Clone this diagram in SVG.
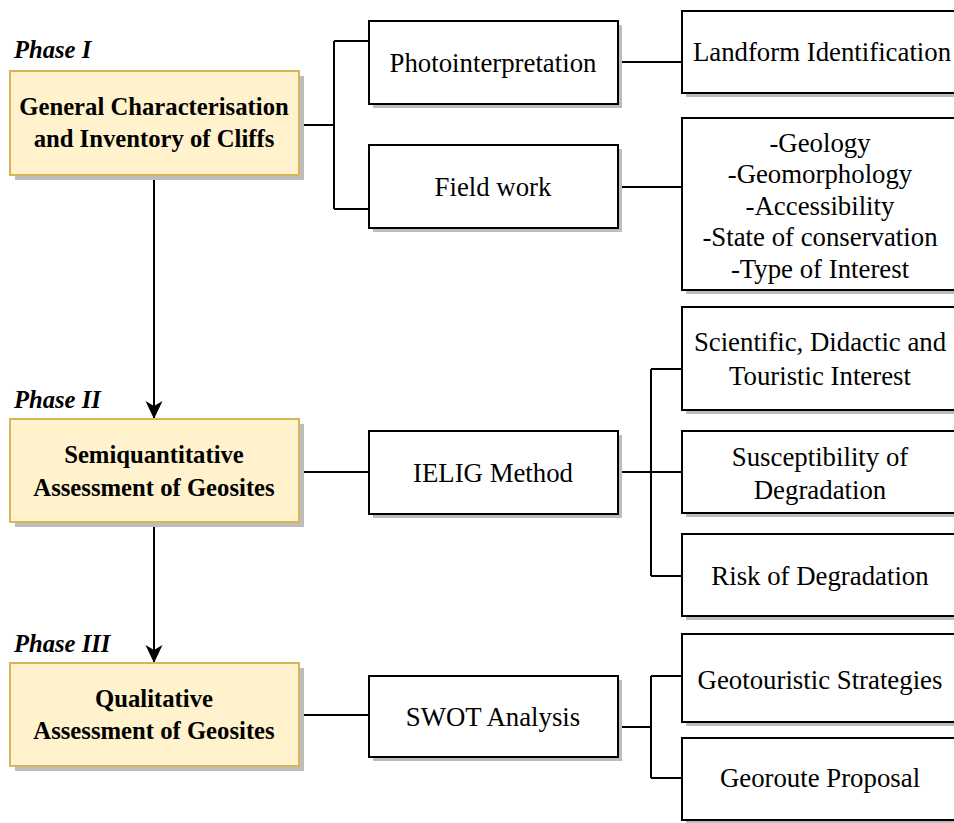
<svg xmlns="http://www.w3.org/2000/svg" width="954" height="823" viewBox="0 0 954 823">
<style>
.ph{fill:#FFF2CC;stroke:#D6B656;stroke-width:2}
.bx{fill:#FFFFFF;stroke:#000;stroke-width:2}
.sh{fill:#BDBDBD}
text{font-family:'Liberation Serif','Times New Roman',serif;fill:#000}
.t{font-size:26.8px;text-anchor:middle}
.tb{font-size:24.7px;font-weight:bold;text-anchor:middle}
.lab{font-size:24.6px;font-weight:bold;font-style:italic}
.c{fill:none;stroke:#000;stroke-width:2}
</style>
<defs>
<marker id="arr" viewBox="0 0 18 18" refX="17" refY="9" markerWidth="18" markerHeight="18" markerUnits="userSpaceOnUse" orient="auto">
<path d="M0,0.5 L18,9 L0,17.5 L5,9 Z" fill="#000"/>
</marker>
</defs>
<rect width="954" height="823" fill="#fff"/>
<g id="connectors">
<path class="c" d="M299,125 H334 M334,41 V209 M334,41 H369 M334,209 H369"/>
<path class="c" d="M618,62 H682"/>
<path class="c" d="M618,187 H682"/>
<path class="c" d="M299,472 H369"/>
<path class="c" d="M618,472 H682 M651,369 V576 M651,369 H682 M651,576 H682"/>
<path class="c" d="M299,715 H369"/>
<path class="c" d="M618,727 H651 M651,676 V778 M651,676 H682 M651,778 H682"/>
<path class="c" d="M154,176 V418" marker-end="url(#arr)"/>
<path class="c" d="M154,523 V662" marker-end="url(#arr)"/>
</g>
<g id="phase1">
<text class="lab" x="14" y="58">Phase I</text>
<rect class="sh" x="15" y="76" width="289" height="104"/>
<rect class="ph" x="10" y="71" width="289" height="104"/>
<text class="tb" x="154" y="115">General Characterisation</text>
<text class="tb" x="154" y="147">and Inventory of Cliffs</text>
</g>
<g id="phase2">
<text class="lab" x="14" y="408">Phase II</text>
<rect class="sh" x="15" y="424" width="289" height="103"/>
<rect class="ph" x="10" y="419" width="289" height="103"/>
<text class="tb" x="154" y="463">Semiquantitative</text>
<text class="tb" x="154" y="496">Assessment of Geosites</text>
</g>
<g id="phase3">
<text class="lab" x="14" y="652">Phase III</text>
<rect class="sh" x="15" y="668" width="289" height="103"/>
<rect class="ph" x="10" y="663" width="289" height="103"/>
<text class="tb" x="154" y="707">Qualitative</text>
<text class="tb" x="154" y="739">Assessment of Geosites</text>
</g>
<g id="photointerpretation">
<rect class="sh" x="373" y="25" width="249" height="83"/>
<rect class="bx" x="369" y="21" width="249" height="83"/>
<text class="t" x="493" y="72">Photointerpretation</text>
</g>
<g id="fieldwork">
<rect class="sh" x="373" y="149" width="249" height="83"/>
<rect class="bx" x="369" y="145" width="249" height="83"/>
<text class="t" x="493" y="196">Field work</text>
</g>
<g id="ielig">
<rect class="sh" x="373" y="435" width="249" height="83"/>
<rect class="bx" x="369" y="431" width="249" height="83"/>
<text class="t" x="493" y="482">IELIG Method</text>
</g>
<g id="swot">
<rect class="sh" x="373" y="680" width="249" height="81"/>
<rect class="bx" x="369" y="676" width="249" height="81"/>
<text class="t" x="493" y="726">SWOT Analysis</text>
</g>
<g id="landform">
<rect class="sh" x="686" y="15" width="290" height="82"/>
<rect class="bx" x="682" y="11" width="290" height="82"/>
<text class="t" x="822" y="61">Landform Identification</text>
</g>
<g id="fielddetails">
<rect class="sh" x="686" y="122" width="290" height="172"/>
<rect class="bx" x="682" y="118" width="290" height="172"/>
<text class="t" x="820" y="152">-Geology</text>
<text class="t" x="820" y="183">-Geomorphology</text>
<text class="t" x="820" y="215">-Accessibility</text>
<text class="t" x="820" y="246">-State of conservation</text>
<text class="t" x="820" y="278">-Type of Interest</text>
</g>
<g id="scientific">
<rect class="sh" x="686" y="311" width="290" height="103"/>
<rect class="bx" x="682" y="307" width="290" height="103"/>
<text class="t" x="820" y="351">Scientific, Didactic and</text>
<text class="t" x="820" y="385">Touristic Interest</text>
</g>
<g id="susceptibility">
<rect class="sh" x="686" y="435" width="290" height="82"/>
<rect class="bx" x="682" y="431" width="290" height="82"/>
<text class="t" x="820" y="466">Susceptibility of</text>
<text class="t" x="820" y="499">Degradation</text>
</g>
<g id="risk">
<rect class="sh" x="686" y="538" width="290" height="82"/>
<rect class="bx" x="682" y="534" width="290" height="82"/>
<text class="t" x="820" y="585">Risk of Degradation</text>
</g>
<g id="geotouristic">
<rect class="sh" x="686" y="638" width="290" height="88"/>
<rect class="bx" x="682" y="634" width="290" height="88"/>
<text class="t" x="820" y="689">Geotouristic Strategies</text>
</g>
<g id="georoute">
<rect class="sh" x="686" y="742" width="290" height="82"/>
<rect class="bx" x="682" y="738" width="290" height="82"/>
<text class="t" x="820" y="787">Georoute Proposal</text>
</g>
</svg>
